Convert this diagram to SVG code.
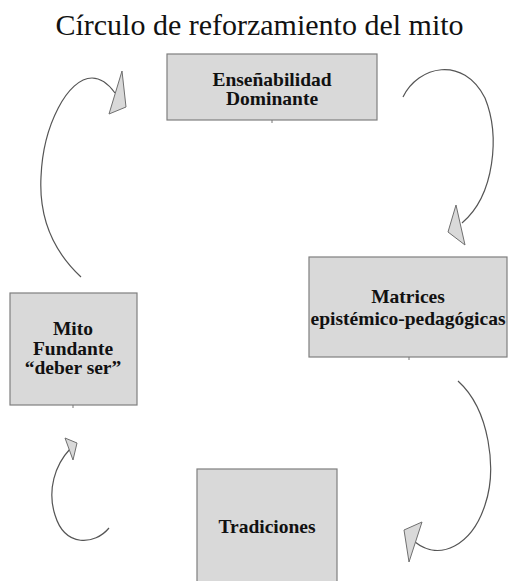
<svg xmlns="http://www.w3.org/2000/svg" width="508" height="581" viewBox="0 0 508 581">
<style>
.box{fill:#d9d9d9;stroke:#7f7f7f;stroke-width:1.2}
.lbl{font-family:"Liberation Serif","Times New Roman",serif;font-weight:bold;font-size:19.5px;fill:#111;text-anchor:middle}
.title{font-family:"Liberation Serif","Times New Roman",serif;font-size:30px;fill:#111;text-anchor:middle}
.arc{fill:none;stroke:#555;stroke-width:1.2}
.head{fill:#d9d9d9;stroke:#6f6f6f;stroke-width:1}
.tick{stroke:#777;stroke-width:1}
</style>
<rect width="508" height="581" fill="#fff"/>
<text class="title" x="259.5" y="35">Círculo de reforzamiento del mito</text>
<g id="node-ensenabilidad">
<rect class="box" x="167" y="54" width="210" height="66"/>
<line class="tick" x1="272" y1="120" x2="272" y2="123"/>
<text class="lbl" x="272" y="86">Enseñabilidad</text>
<text class="lbl" x="272" y="105">Dominante</text>
</g>
<g id="node-matrices">
<rect class="box" x="309" y="257" width="198" height="100"/>
<line class="tick" x1="409" y1="357" x2="409" y2="360"/>
<text class="lbl" x="408" y="303">Matrices</text>
<text class="lbl" x="408" y="325">epistémico-pedagógicas</text>
</g>
<g id="node-mito">
<rect class="box" x="10" y="293" width="127" height="112"/>
<line class="tick" x1="73" y1="405" x2="73" y2="408"/>
<text class="lbl" x="73" y="335">Mito</text>
<text class="lbl" x="73" y="355">Fundante</text>
<text class="lbl" x="73" y="374">“deber ser”</text>
</g>
<g id="node-tradiciones">
<rect class="box" x="197" y="469" width="140" height="120"/>
<text class="lbl" x="267" y="533">Tradiciones</text>
</g>
<g id="connectors">
<path class="arc" d="M403,97 C418,66 463,55 485,98 C500,135 495,195 462,223"/>
<polygon class="head" points="456,205 448,232 465,245"/>
<path class="arc" d="M458,381 C490,410 497,470 485,505 C472,545 440,562 415,542"/>
<polygon class="head" points="404,530 422,522 409,562"/>
<path class="arc" d="M109,528 C95,545 65,548 55,515 C47,490 55,465 70,449"/>
<polygon class="head" points="65,438 77,443 73,460"/>
<path class="arc" d="M81,277 C52,250 39,215 41,177 C43,125 68,78 92,78 C103,78 110,86 115,93"/>
<polygon class="head" points="122,71 126,107 109,114"/>
</g>
</svg>
